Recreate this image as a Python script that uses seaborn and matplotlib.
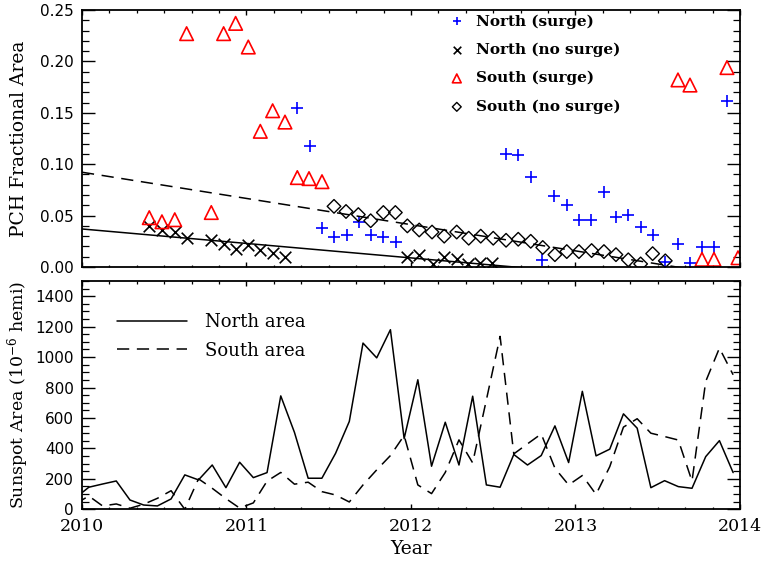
import matplotlib

matplotlib.use("Agg")

import matplotlib.pyplot as plt
import numpy as np
import pandas as pd
import seaborn as sns
from matplotlib.ticker import FormatStrFormatter, MultipleLocator

# --- top panel: PCH fractional area per Carrington rotation (decimal year) ---
north_surge_year = [2011.309, 2011.386, 2011.459, 2011.532, 2011.609, 2011.686, 2011.757,
                    2011.832, 2011.909, 2012.578, 2012.652, 2012.728, 2012.796, 2012.869,
                    2012.947, 2013.021, 2013.094, 2013.173, 2013.246, 2013.321, 2013.400,
                    2013.469, 2013.546, 2013.621, 2013.696, 2013.767, 2013.844, 2013.919]
north_surge_area = [0.155, 0.118, 0.038, 0.029, 0.031, 0.044, 0.031,
                    0.029, 0.024, 0.110, 0.109, 0.088, 0.007, 0.069,
                    0.060, 0.046, 0.046, 0.073, 0.049, 0.051, 0.039,
                    0.031, 0.005, 0.022, 0.004, 0.019, 0.019, 0.161]

north_nosurge_year = [2010.409, 2010.486, 2010.564, 2010.636, 2010.786, 2010.861, 2010.934,
                      2011.011, 2011.084, 2011.159, 2011.234, 2011.978, 2012.050, 2012.132,
                      2012.201, 2012.278, 2012.348, 2012.419, 2012.494]
north_nosurge_area = [0.040, 0.036, 0.034, 0.028, 0.026, 0.022, 0.018,
                      0.021, 0.017, 0.014, 0.010, 0.010, 0.012, 0.003,
                      0.010, 0.008, 0.003, 0.004, 0.004]

south_surge_year = [2010.409, 2010.486, 2010.564, 2010.636, 2010.786, 2010.861, 2010.934,
                    2011.011, 2011.084, 2011.159, 2011.234, 2011.309, 2011.380, 2011.459,
                    2013.623, 2013.696, 2013.769, 2013.842, 2013.921, 2013.988]
south_surge_area = [0.048, 0.044, 0.046, 0.227, 0.053, 0.227, 0.237,
                    0.214, 0.132, 0.152, 0.141, 0.087, 0.086, 0.083,
                    0.182, 0.177, 0.0075, 0.0075, 0.194, 0.009]

south_nosurge_year = [2011.532, 2011.605, 2011.680, 2011.755, 2011.832, 2011.905, 2011.978,
                      2012.050, 2012.128, 2012.202, 2012.278, 2012.351, 2012.424, 2012.500,
                      2012.578, 2012.652, 2012.728, 2012.801, 2012.875, 2012.947, 2013.021,
                      2013.098, 2013.173, 2013.246, 2013.321, 2013.396, 2013.469, 2013.546]
south_nosurge_area = [0.059, 0.054, 0.051, 0.045, 0.053, 0.053, 0.040,
                      0.036, 0.034, 0.030, 0.034, 0.028, 0.030, 0.028,
                      0.026, 0.027, 0.025, 0.019, 0.012, 0.015, 0.015,
                      0.016, 0.015, 0.012, 0.007, 0.003, 0.013, 0.006]

# linear trends (end points read at 2010 and 2014)
fit_year = [2010.0, 2014.0]
north_fit = [0.037, -0.0193]
south_fit = [0.0922, -0.0098]

# --- bottom panel: monthly sunspot area (Dec 2009 .. Dec 2013) ---
month_idx = np.arange(-1, 48)
north_spot = [73, 145, 166, 186, 61, 28, 22, 68, 226, 193, 291, 142, 309,
              208, 241, 745, 505, 204, 204, 368, 577, 1092, 995, 1180, 465,
              851, 283, 572, 291, 743, 160, 145, 360, 291, 353, 548, 307,
              775, 351, 395, 627, 533, 142, 188, 149, 138, 346, 451, 241]
south_spot = [35, 87, 22, 35, 7, 33, 72, 122, 0, 200, 138, 70, 8,
              42, 185, 242, 165, 178, 116, 94, 48, 160, 259, 353, 485,
              160, 103, 242, 456, 305, 719, 1136, 364, 430, 495, 270, 160,
              222, 98, 280, 540, 595, 500, 478, 455, 185, 840, 1059, 884]

sns.set_theme(style="ticks")
plt.rcParams.update({
    "font.family": ["DejaVu Serif"],
    "mathtext.fontset": "dejavuserif",
    "text.color": "black",
    "axes.edgecolor": "black",
    "axes.labelcolor": "black",
    "axes.linewidth": 1.3,
    "xtick.color": "black",
    "ytick.color": "black",
    "xtick.direction": "in",
    "ytick.direction": "in",
    "xtick.top": True,
    "ytick.right": True,
    "xtick.major.size": 3.6,
    "xtick.minor.size": 1.8,
    "ytick.major.size": 9.4,
    "ytick.minor.size": 4.7,
    "xtick.major.width": 1.0,
    "xtick.minor.width": 0.9,
    "ytick.major.width": 1.0,
    "ytick.minor.width": 0.9,
    "xtick.major.pad": 6,
    "ytick.major.pad": 6,
})

fig = plt.figure(figsize=(7.62, 5.62), dpi=100)
ax1 = fig.add_axes([0.1076, 0.5249, 0.8635, 0.4573])
ax2 = fig.add_axes([0.1076, 0.0938, 0.8635, 0.4062])

# top panel
sns.scatterplot(x=north_surge_year, y=north_surge_area, marker="+", color="blue",
                s=85, linewidth=1.2, ax=ax1, label="North (surge)")
sns.scatterplot(x=north_nosurge_year, y=north_nosurge_area, marker="x", color="black",
                s=70, linewidth=1.2, ax=ax1, label="North (no surge)")
sns.scatterplot(x=south_surge_year, y=south_surge_area, marker="^", facecolors="none",
                edgecolors="red", s=95, linewidth=1.2, ax=ax1, label="South (surge)")
sns.scatterplot(x=south_nosurge_year, y=south_nosurge_area, marker="D", facecolors="none",
                edgecolors="black", s=48, linewidth=1.0, ax=ax1, label="South (no surge)")
sns.lineplot(x=fit_year, y=north_fit, color="black", linewidth=1.1, ax=ax1)
sns.lineplot(x=fit_year, y=south_fit, color="black", linewidth=1.1,
             linestyle=(0, (8, 5)), ax=ax1)

ax1.set_xlim(2010, 2014)
ax1.set_ylim(0, 0.25)
ax1.xaxis.set_major_locator(MultipleLocator(1))
ax1.xaxis.set_minor_locator(MultipleLocator(1 / 6))
ax1.yaxis.set_major_locator(MultipleLocator(0.05))
ax1.yaxis.set_minor_locator(MultipleLocator(0.01))
ax1.yaxis.set_major_formatter(FormatStrFormatter("%.2f"))
ax1.tick_params(axis="x", labelbottom=False)
ax1.set_xlabel("")
ax1.set_ylabel("PCH Fractional Area", fontsize=13.5)
ax1.yaxis.set_label_coords(-0.082, 0.5)
ax1.legend(loc="upper left", bbox_to_anchor=(0.558, 0.984), frameon=False,
           borderpad=0, borderaxespad=0, handlelength=1.0, handletextpad=0.75,
           labelspacing=0.92, markerscale=0.65,
           prop={"family": "DejaVu Serif", "weight": "bold", "size": 11})

# bottom panel
spot = pd.DataFrame({
    "year": 2010 + (month_idx + 0.5) / 12,
    "north": north_spot,
    "south": south_spot,
})
sns.lineplot(data=spot, x="year", y="north", color="black", linewidth=1.1,
             ax=ax2, label="North area")
sns.lineplot(data=spot, x="year", y="south", color="black", linewidth=1.1,
             linestyle=(0, (8, 5)), ax=ax2, label="South area")

ax2.set_xlim(2010, 2014)
ax2.set_ylim(0, 1500)
ax2.xaxis.set_major_locator(MultipleLocator(1))
ax2.xaxis.set_minor_locator(MultipleLocator(1 / 6))
ax2.yaxis.set_major_locator(MultipleLocator(200))
ax2.yaxis.set_minor_locator(MultipleLocator(50))
ax2.set_ylabel("Sunspot Area (10$^{-6}$ hemi)", fontsize=12.5)
ax2.yaxis.set_label_coords(-0.078, 0.5)
ax2.set_xlabel("Year", fontsize=13.5)
ax2.xaxis.set_label_coords(0.5, -0.135)
ax2.legend(loc="upper left", bbox_to_anchor=(0.053, 0.86), frameon=False,
           borderpad=0, borderaxespad=0, handlelength=3.9, handletextpad=1.0,
           labelspacing=0.6, prop={"family": "DejaVu Serif", "size": 13})

for ax in (ax1, ax2):
    plt.setp(ax.get_yticklabels(), fontfamily="DejaVu Sans", fontsize=11)
plt.setp(ax2.get_xticklabels(), fontfamily="DejaVu Serif", fontsize=12.5)

fig.savefig("out.png", dpi=100)
